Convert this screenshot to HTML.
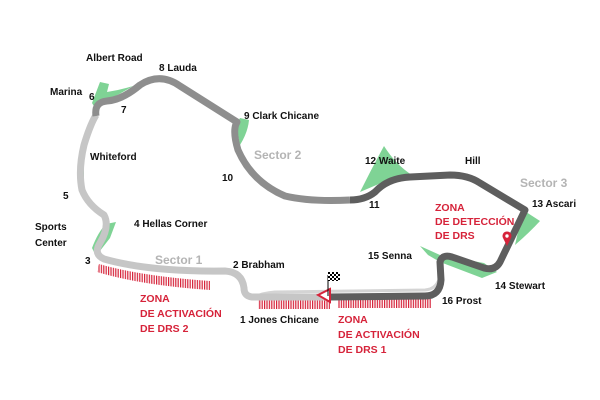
<!DOCTYPE html>
<html><head><meta charset="utf-8"><style>
body{margin:0;background:#fff}
svg{display:block}
text{font-family:"Liberation Sans",sans-serif;font-weight:bold;font-size:10px;fill:#111}
.s{fill:#b4b4b4;font-size:12px}
.r{fill:#d6233a;font-size:10.5px}
</style></head><body>
<svg width="600" height="400" viewBox="0 0 600 400">
<defs>
<pattern id="h" width="2.4" height="10" patternUnits="userSpaceOnUse"><rect width="1.2" height="10" fill="#d6233a"/></pattern>
<pattern id="c" width="4" height="4" patternUnits="userSpaceOnUse"><rect width="4" height="4" fill="#fff"/><rect width="2" height="2" fill="#000"/><rect x="2" y="2" width="2" height="2" fill="#000"/></pattern>
</defs>
<g fill="#7fd395">
<path d="M100,82 L109,84 L107,92 Q120,90 133,86 Q115,97 100,104 L98,113 L92,103 Z"/>
<path d="M78,178 L84,170 L84,195 L80,182 Z"/>
<path d="M92,248 Q98,232 106,224 L116,222 L110,238 L96,256 Z"/>
<path d="M240,118 L249,120 Q248,132 240,145 L236,125 Z"/>
<path d="M360,192 Q372,168 384,146 Q396,165 412,175 L388,180 Z"/>
<path d="M523,210 L540,221 Q530,232 515,245 Z"/>
<path d="M420,246 L440,255 L484,263 L497,272 L482,278 L440,262 L428,255 Z"/>
</g>
<path d="M440,275 Q438,289 425,290 L275,292 Q262,293 255,297" fill="none" stroke="#d4d4d4" stroke-width="3"/>
<path d="M99,264 Q140,276 210,281 L210,290 Q140,285 97,272 Z" fill="url(#h)"/>
<rect x="258" y="300" width="72" height="9" fill="url(#h)"/>
<rect x="338" y="299" width="93" height="9" fill="url(#h)"/>
<path d="M330,297 L252,297 Q244,296 244,288 Q242,272 225,271 Q150,272 104,259 Q93,254 100,243 Q110,226 104,215 Q88,205 82,190 Q78,170 84,145 Q90,125 96,115" fill="none" stroke="#c6c6c6" stroke-width="7" stroke-linejoin="round"/>
<path d="M96,116 Q94,102 107,101 Q122,100 140,85 Q160,72 180,86 L237,122 Q232,130 238,150 Q252,182 285,196 Q310,202 350,200" fill="none" stroke="#8e8e8e" stroke-width="7" stroke-linejoin="round"/>
<path d="M350,200 Q365,200 375,192 Q388,178 410,177 L450,175 Q468,175 480,183 L525,210 L500,262 Q495,271 484,268 L452,257 Q442,254 440,262 L441,280 Q440,296 425,296 L330,297" fill="none" stroke="#5e5e5e" stroke-width="7" stroke-linejoin="round"/>
<path d="M318,295 L330,289 L330,302 Z" fill="#fff" stroke="#d6233a" stroke-width="2"/>
<line x1="328" y1="275" x2="328" y2="296" stroke="#000" stroke-width="1"/>
<rect x="328" y="272" width="12" height="9" fill="url(#c)"/>
<path d="M507,246 L503,238 A4.5,4.5 0 1 1 511,238 Z" fill="#d6233a"/><circle cx="507" cy="236" r="1.7" fill="#fff"/>
<text x="86" y="61">Albert Road</text>
<text x="159" y="71">8 Lauda</text>
<text x="50" y="95">Marina</text>
<text x="89" y="100">6</text>
<text x="121" y="113">7</text>
<text x="244" y="119">9 Clark Chicane</text>
<text class="s" x="254" y="159">Sector 2</text>
<text x="90" y="160">Whiteford</text>
<text x="222" y="181">10</text>
<text x="63" y="199">5</text>
<text x="134" y="227">4 Hellas Corner</text>
<text x="35" y="230">Sports</text>
<text x="35" y="246">Center</text>
<text x="85" y="264">3</text>
<text class="s" x="155" y="264">Sector 1</text>
<text x="233" y="268">2  Brabham</text>
<text class="r" x="140" y="302">ZONA</text>
<text class="r" x="140" y="317">DE ACTIVACIÓN</text>
<text class="r" x="140" y="332">DE DRS 2</text>
<text x="240" y="323">1 Jones Chicane</text>
<text class="r" x="338" y="323">ZONA</text>
<text class="r" x="338" y="338">DE ACTIVACIÓN</text>
<text class="r" x="338" y="353">DE DRS 1</text>
<text x="365" y="164">12 Waite</text>
<text x="465" y="164">Hill</text>
<text class="s" x="520" y="187">Sector 3</text>
<text x="532" y="207">13 Ascari</text>
<text x="369" y="208">11</text>
<text class="r" x="435" y="211">ZONA</text>
<text class="r" x="435" y="225">DE DETECCIÓN</text>
<text class="r" x="435" y="239">DE DRS</text>
<text x="368" y="259">15 Senna</text>
<text x="495" y="289">14 Stewart</text>
<text x="442" y="304">16 Prost</text>
</svg>
</body></html>
